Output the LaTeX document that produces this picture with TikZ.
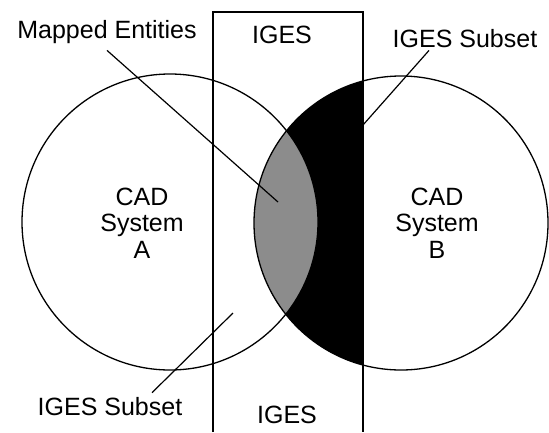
\documentclass[tikz,border=0pt]{standalone}
\usepackage{fontspec}
\setmainfont{Liberation Sans}
\usetikzlibrary{positioning}

\begin{document}
\begin{tikzpicture}[
  x=1pt, y=-1pt,
  txt/.style={font=\fontsize{25}{26.5}\selectfont, align=center, inner sep=0pt},
  system/.style={circle, draw=black, line width=1.3pt, inner sep=0pt},
  leader/.style={line width=1.2pt},
]
\useasboundingbox (0,0) rectangle (549,432);

% Shaded regions
\begin{scope}
  \clip (401,223) circle[radius=147];
  \fill[black] (213,0) rectangle (363,432);
  \clip (170,222) circle[radius=148];
  \fill[black!45] (0,0) rectangle (549,432);
\end{scope}

% Systems
\node[system, minimum size=296pt] (sysA) at (170,222) {};
\node[system, minimum size=294pt] (sysB) at (401,223) {};
\node[txt] (labA) at (142,223) {CAD\\System\\A};
\node[txt] (labB) at (437,223) {CAD\\System\\B};

% IGES band
\coordinate (bandBL) at (213,432);
\coordinate (bandBR) at (363,432);
\draw[line width=1.2pt] (bandBL) -- (213,12) -- (363,12) -- (bandBR);
\node[txt, anchor=base] (igesTop) at (282,43) {IGES};
\node[txt, anchor=base] (igesBot) at (287,423) {IGES};

% Labels
\node[txt, anchor=base] (mapped) at (107,38) {Mapped Entities};
\node[txt, anchor=base] (subB) at (465,47) {IGES Subset};
\node[txt, anchor=base] (subA) at (110,415) {IGES Subset};

% Leaders
\coordinate (mappedEnd) at (278,202);
\coordinate (subBEnd) at (363,125);
\coordinate (subAEnd) at (233,313);
\draw[leader] (mapped.south) ++(0,7) -- (mappedEnd);
\draw[leader] (subB.south) ++(-36,3) -- (subBEnd);
\draw[leader] (subA.north) ++(42,-4) -- (subAEnd);

\end{tikzpicture}
\end{document}
